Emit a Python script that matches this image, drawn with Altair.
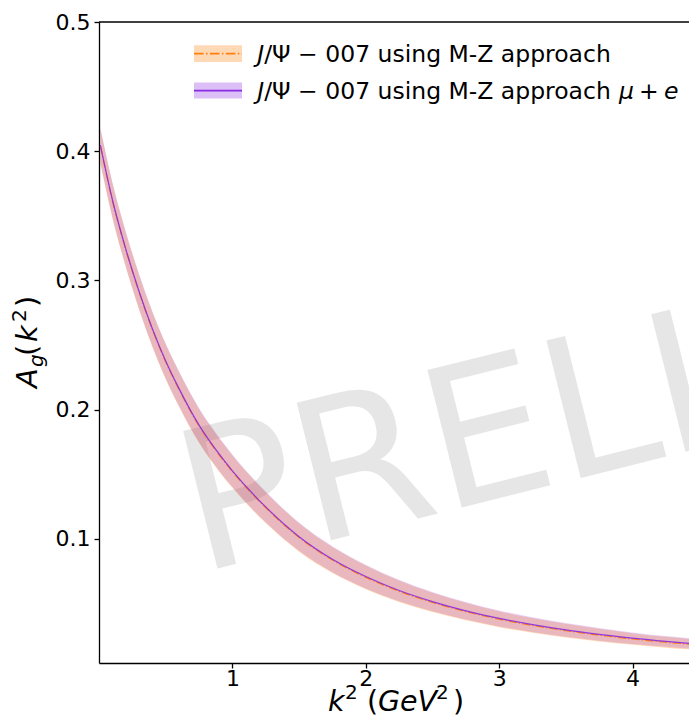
import altair as alt
import pandas as pd

# ---------------- data ----------------
k2 = [0.01, 0.1, 0.2, 0.3, 0.4, 0.5, 0.6, 0.75, 0.9, 1.0, 1.25, 1.5, 1.75,
      2.0, 2.25, 2.5, 2.75, 3.0, 3.25, 3.5, 3.75, 4.0, 4.25, 4.5]
mz_center = [0.404, 0.362, 0.324, 0.291, 0.262, 0.237, 0.2156, 0.1873, 0.165,
             0.152, 0.124, 0.101, 0.0835, 0.0701, 0.0593, 0.0507, 0.0436,
             0.0377, 0.0329, 0.0288, 0.0254, 0.0224, 0.0199, 0.0178]
mz_err = [0.0135, 0.0135, 0.0135, 0.0135, 0.0135, 0.0135, 0.0134, 0.0132,
          0.0129, 0.0126, 0.0119, 0.0110, 0.0101, 0.0092, 0.0083, 0.0075,
          0.0068, 0.0062, 0.0057, 0.0053, 0.0049, 0.0045, 0.0042, 0.0040]
mue_center = [0.4046, 0.3626, 0.3246, 0.2916, 0.2626, 0.2376, 0.2162, 0.1879,
              0.1656, 0.1526, 0.1246, 0.1016, 0.0841, 0.0707, 0.0599, 0.0513,
              0.0442, 0.0383, 0.0335, 0.0294, 0.0260, 0.0230, 0.0205, 0.0184]
mue_err = [0.0135, 0.0135, 0.0135, 0.0135, 0.0135, 0.0135, 0.0134, 0.0132,
           0.0129, 0.0126, 0.0119, 0.0110, 0.0101, 0.0092, 0.0083, 0.0075,
           0.0068, 0.0062, 0.0057, 0.0053, 0.0049, 0.0045, 0.0042, 0.0040]

x_ticks = [1, 2, 3, 4]
y_ticks = [0.1, 0.2, 0.3, 0.4, 0.5]
x_domain = [0.0, 4.423]
y_domain = [0.0038, 0.5]
legend_main = "/Ψ − 007 using M-Z approach"
watermark = "PRELIMINARY"

ORANGE = "#ff7f0e"
PURPLE = "#8a2be2"
FONT = "DejaVu Sans"
W, H = 590, 641

df = pd.DataFrame({"k2": k2, "mz": mz_center, "mue": mue_center})
df["mz_lo"] = df["mz"] - pd.Series(mz_err)
df["mz_hi"] = df["mz"] + pd.Series(mz_err)
df["mue_lo"] = df["mue"] - pd.Series(mue_err)
df["mue_hi"] = df["mue"] + pd.Series(mue_err)

one = pd.DataFrame({"d": [0]})

axis_style = dict(domainColor="black", domainWidth=1.3, tickColor="black",
                  tickWidth=1.3, tickSize=5, labelFontSize=22, labelFont=FONT,
                  labelColor="black", grid=False, title=None)

xenc = alt.X("k2:Q", scale=alt.Scale(domain=x_domain, nice=False, zero=False),
             axis=alt.Axis(values=x_ticks, format="d", labelPadding=0, **axis_style))
yscale = alt.Scale(domain=y_domain, nice=False, zero=False)
yaxis = alt.Axis(values=y_ticks, format=".1f", labelPadding=4, **axis_style)

# watermark
wm = alt.Chart(pd.DataFrame({"t": [watermark]})).mark_text(
    align="left", baseline="alphabetic", angle=346, fontSize=194,
    font=FONT, color="#e6e6e6"
).encode(x=alt.value(100), y=alt.value(551), text="t:N")

base = alt.Chart(df)
band_or = base.mark_area(color=ORANGE, opacity=0.3, clip=True, interpolate="monotone").encode(
    x=xenc, y=alt.Y("mz_lo:Q", scale=yscale, axis=yaxis), y2="mz_hi:Q")
band_pu = base.mark_area(color=PURPLE, opacity=0.19, clip=True, interpolate="monotone").encode(
    x=xenc, y=alt.Y("mue_lo:Q", scale=yscale, axis=yaxis), y2="mue_hi:Q")
line_or = base.mark_line(color=ORANGE, strokeWidth=1.3, strokeDash=[8.3, 2.1, 1.3, 2.1],
                         clip=True, interpolate="monotone").encode(
    x=xenc, y=alt.Y("mz:Q", scale=yscale, axis=yaxis))
line_pu = base.mark_line(color=PURPLE, strokeWidth=1.2, opacity=0.9, clip=True,
                         interpolate="monotone").encode(
    x=xenc, y=alt.Y("mue:Q", scale=yscale, axis=yaxis))

top_spine = alt.Chart(one).mark_rule(color="black", strokeWidth=1.3).encode(
    x=alt.value(0), x2=alt.value(W), y=alt.value(0))

layers = [wm, band_or, band_pu, line_or, line_pu, top_spine]

# legend
def patch(color, op, y0, y1):
    return alt.Chart(one).mark_rect(color=color, opacity=op).encode(
        x=alt.value(95), x2=alt.value(143), y=alt.value(y0), y2=alt.value(y1))

layers += [
    patch(ORANGE, 0.3, 23.3, 40.0),
    patch(PURPLE, 0.3, 60.6, 76.6),
    alt.Chart(one).mark_rule(color=ORANGE, strokeWidth=1.6, strokeDash=[9.6, 2.4, 1.5, 2.4]).encode(
        x=alt.value(95), x2=alt.value(143), y=alt.value(31.6)),
    alt.Chart(one).mark_rule(color=PURPLE, strokeWidth=1.8).encode(
        x=alt.value(95), x2=alt.value(143), y=alt.value(68.6)),
]

def txt(s, x, y, size, italic=False, angle=0):
    kw = dict(align="left", baseline="alphabetic", fontSize=size, font=FONT, color="black")
    if italic:
        kw["fontStyle"] = "italic"
    if angle:
        kw["angle"] = angle
    return alt.Chart(one).mark_text(**kw).encode(
        x=alt.value(x), y=alt.value(y), text=alt.value(s))

LF = 23.5
layers += [
    txt("J", 158.3, 40.0, LF, True),
    txt(legend_main, 165.2, 40.0, LF),
    txt("J", 158.3, 76.6, LF, True),
    txt(legend_main, 165.2, 76.6, LF),
    txt("μ", 520, 76.6, LF, True),
    txt("+", 540, 76.6, LF),
    txt("e", 565, 76.6, LF, True),
]

# y title  A_g(k^2)  (rotated)
layers += [
    txt("A", -62, 366, 29, True, 270),
    txt("g", -56.5, 345, 20, True, 270),
    txt("(", -62, 334, 29, False, 270),
    txt("k", -62, 320, 29, True, 270),
    txt("2", -73, 300, 20, False, 270),
    txt(")", -62, 285, 29, False, 270),
]

# x title  k^2 (GeV^2)
TF = 28.5
layers += [
    txt("k", 229, 689, TF, True),
    txt("2", 246, 677, 20),
    txt("(", 268, 689, TF),
    txt("GeV", 279, 689, TF, True),
    txt("2", 337, 677, 20),
    txt(")", 354, 689, TF),
]

chart = alt.layer(*layers).properties(
    width=W, height=H,
    autosize=alt.AutoSizeParams(type="none"),
    padding={"left": 91, "top": 14, "right": 0, "bottom": 55},
).configure_view(stroke=None)

chart.save("out.html", embed_options={"renderer": "svg", "actions": False})
